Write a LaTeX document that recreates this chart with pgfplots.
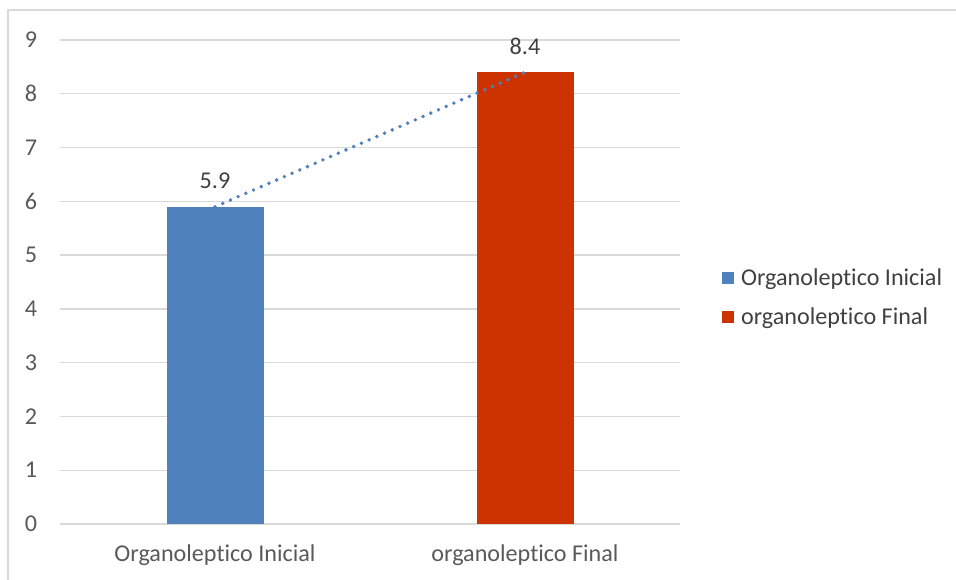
\documentclass[border=0pt]{standalone}
\usepackage{fontspec}
\setmainfont[Ligatures=NoCommon]{Carlito}
\usepackage{pgfplots}
\pgfplotsset{compat=1.18}
\definecolor{barblue}{HTML}{4F81BD}
\definecolor{barred}{HTML}{CC3300}
\definecolor{gridgray}{HTML}{D9D9D9}
\definecolor{ticktext}{HTML}{595959}
\definecolor{labeltext}{HTML}{404040}
\newcommand{\chartfont}{\fontsize{18.1}{21}\selectfont}
\begin{document}
\begin{tikzpicture}
\useasboundingbox (0,0) rectangle (717pt,435pt);
% outer chart frame
\draw[gridgray, line width=0.9pt] (6pt,-1pt) -- (6pt,427.5pt) -- (718pt,427.5pt);
\begin{axis}[
  at={(45pt,42pt)}, anchor=south west,
  scale only axis, width=465pt, height=363pt,
  xmin=-0.5, xmax=1.5, ymin=0, ymax=9,
  axis line style={draw=none},
  major tick length=0pt,
  ytick={0,1,...,9},
  ymajorgrids, grid style={gridgray, line width=1pt},
  xtick={0,1},
  xticklabels={Organoleptico Inicial, organoleptico Final},
  /pgf/number format/assume math mode=true,
  ticklabel style={font=\chartfont, text=ticktext, inner sep=0pt},
  yticklabel shift=17pt,
  xticklabel shift=15.5pt,
  legend style={at={(1.068,0.468)}, anchor=west, draw=none, fill=none,
    font=\chartfont, text=labeltext, inner sep=0pt, row sep=15pt,
    column sep=5pt, nodes={inner sep=0pt}},
  legend cell align=left,
  legend image code/.code={\fill[#1] (0pt,-4.5pt) rectangle (9pt,4.5pt);},
]
\addplot[ybar, bar width=72.75pt, bar shift=0pt, fill=barblue, draw=none,
  nodes near coords, point meta=explicit symbolic,
  every node near coord/.append style={font=\chartfont, text=labeltext, inner sep=0pt, anchor=south, yshift=13pt}]
  coordinates {(0,5.9) [5.9]};
\addlegendentry{Organoleptico Inicial}
\addplot[ybar, bar width=72.75pt, bar shift=0pt, fill=barred, draw=none,
  nodes near coords, point meta=explicit symbolic,
  every node near coord/.append style={font=\chartfont, text=labeltext, inner sep=0pt, anchor=south, yshift=13pt}]
  coordinates {(1,8.4) [8.4]};
\addlegendentry{organoleptico Final}
% linear trend line through the two bars
\addplot[barblue, line width=2.9pt, line cap=round, dash pattern=on 0pt off 6.3pt, forget plot]
  coordinates {(0,5.9) (1,8.4)};
\end{axis}
\end{tikzpicture}
\end{document}
